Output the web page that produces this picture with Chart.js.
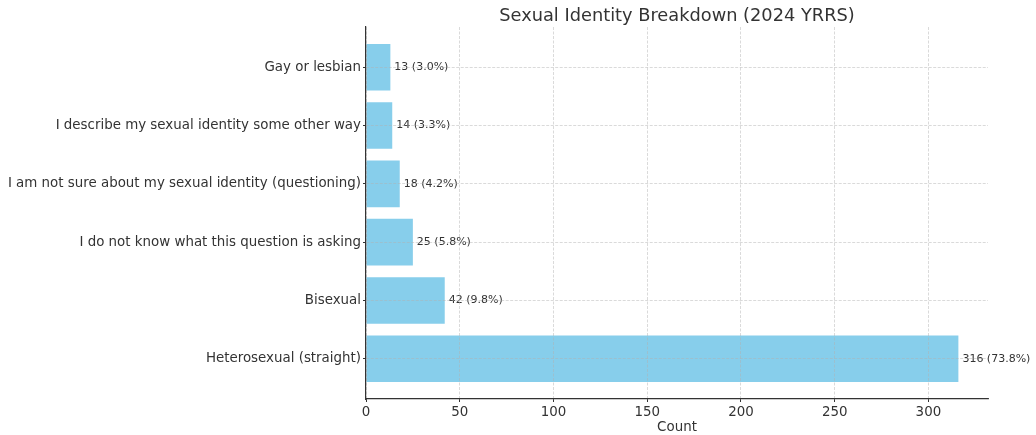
<!DOCTYPE html>
<html>
<head>
<meta charset="utf-8">
<script src="https://cdn.jsdelivr.net/npm/chart.js@4.4.1/dist/chart.umd.min.js"></script>
<style>
  html, body { margin: 0; padding: 0; background: #fff; }
  canvas { display: block; }
</style>
</head>
<body>
<canvas id="chart" width="1036" height="435"></canvas>
<script>
// bottom to top, like matplotlib barh
const categories = [
    "Heterosexual (straight)",
    "Bisexual",
    "I do not know what this question is asking",
    "I am not sure about my sexual identity (questioning)",
    "I describe my sexual identity some other way",
    "Gay or lesbian"
];
const counts = [316, 42, 25, 18, 14, 13];
const xTicks = [0, 50, 100, 150, 200, 250, 300];

const total = counts.reduce( ( a, b ) => a + b, 0 );
const textColor = "#333333";
const gridColor = "rgba(176,176,176,0.6)";

const chartTitle = {
    id: "chartTitle",
    afterDraw( chart ) {
        const { ctx, chartArea } = chart;
        ctx.save();
        ctx.font = "17.8px 'DejaVu Sans'";
        ctx.fillStyle = textColor;
        ctx.textAlign = "center";
        ctx.textBaseline = "alphabetic";
        ctx.fillText( "Sexual Identity Breakdown (2024 YRRS)", ( chartArea.left + chartArea.right ) / 2, 21 );
        ctx.restore();
    }
};

const barLabels = {
    id: "barLabels",
    afterDatasetsDraw( chart ) {
        const { ctx } = chart;
        const meta = chart.getDatasetMeta( 0 );
        ctx.save();
        ctx.font = "11px 'DejaVu Sans'";
        ctx.fillStyle = textColor;
        ctx.textAlign = "left";
        ctx.textBaseline = "middle";
        meta.data.forEach( ( bar, i ) => {
            const pct = ( counts[i] / total * 100 ).toFixed( 1 );
            ctx.fillText( counts[i] + " (" + pct + "%)", bar.x + 4, bar.y );
        } );
        ctx.restore();
    }
};

Chart.defaults.font.family = "'DejaVu Sans'";
Chart.defaults.color = textColor;

const gridOpts = {
    z: 1,
    offset: false,
    color: gridColor,
    lineWidth: 0.8,
    tickLength: 3,
    tickColor: "#333",
    tickWidth: 1,
    tickBorderDash: []
};

new Chart( document.getElementById( "chart" ), {
    type: "bar",
    data: {
        datasets: [
            {
                label: "Count",
                data: counts.map( ( v, i ) => ( { x: v, y: i } ) ),
                backgroundColor: "#87ceeb",
                borderWidth: 0,
                categoryPercentage: 1,
                barPercentage: 0.8,
            }
        ]
    },
    options: {
        indexAxis: "y",
        responsive: false,
        animation: false,
        layout: { padding: { top: 27, right: 48, left: 0, bottom: 0 } },
        plugins: {
            legend: { display: false },
            title: { display: false },
            tooltip: { enabled: false }
        },
        scales: {
            x: {
                type: "linear",
                position: "bottom",
                min: 0,
                max: 316 * 1.05,
                afterBuildTicks: ( scale ) => {
                    scale.ticks = xTicks.map( v => ( { value: v } ) );
                },
                afterFit: ( scale ) => { scale.height = 36; },
                ticks: { font: { size: 13.4 }, padding: 2, color: textColor },
                grid: gridOpts,
                border: { color: "#333", width: 1.2, z: 2, dash: [3, 1.5] },
                title: {
                    display: true,
                    text: "Count",
                    font: { size: 13.4 },
                    color: textColor,
                    padding: { top: 0, bottom: -1 }
                }
            },
            y: {
                type: "linear",
                offset: false,
                min: -0.69,
                max: 5.69,
                afterBuildTicks: ( scale ) => {
                    scale.ticks = categories.map( ( c, i ) => ( { value: i } ) );
                },
                afterFit: ( scale ) => { scale.width = 366; },
                ticks: {
                    font: { size: 13.4 },
                    padding: 2,
                    color: textColor,
                    callback: ( v ) => categories[v]
                },
                grid: gridOpts,
                border: { color: "#333", width: 1.2, z: 2, dash: [3, 1.5] }
            }
        }
    },
    plugins: [chartTitle, barLabels]
} );
</script>
</body>
</html>
